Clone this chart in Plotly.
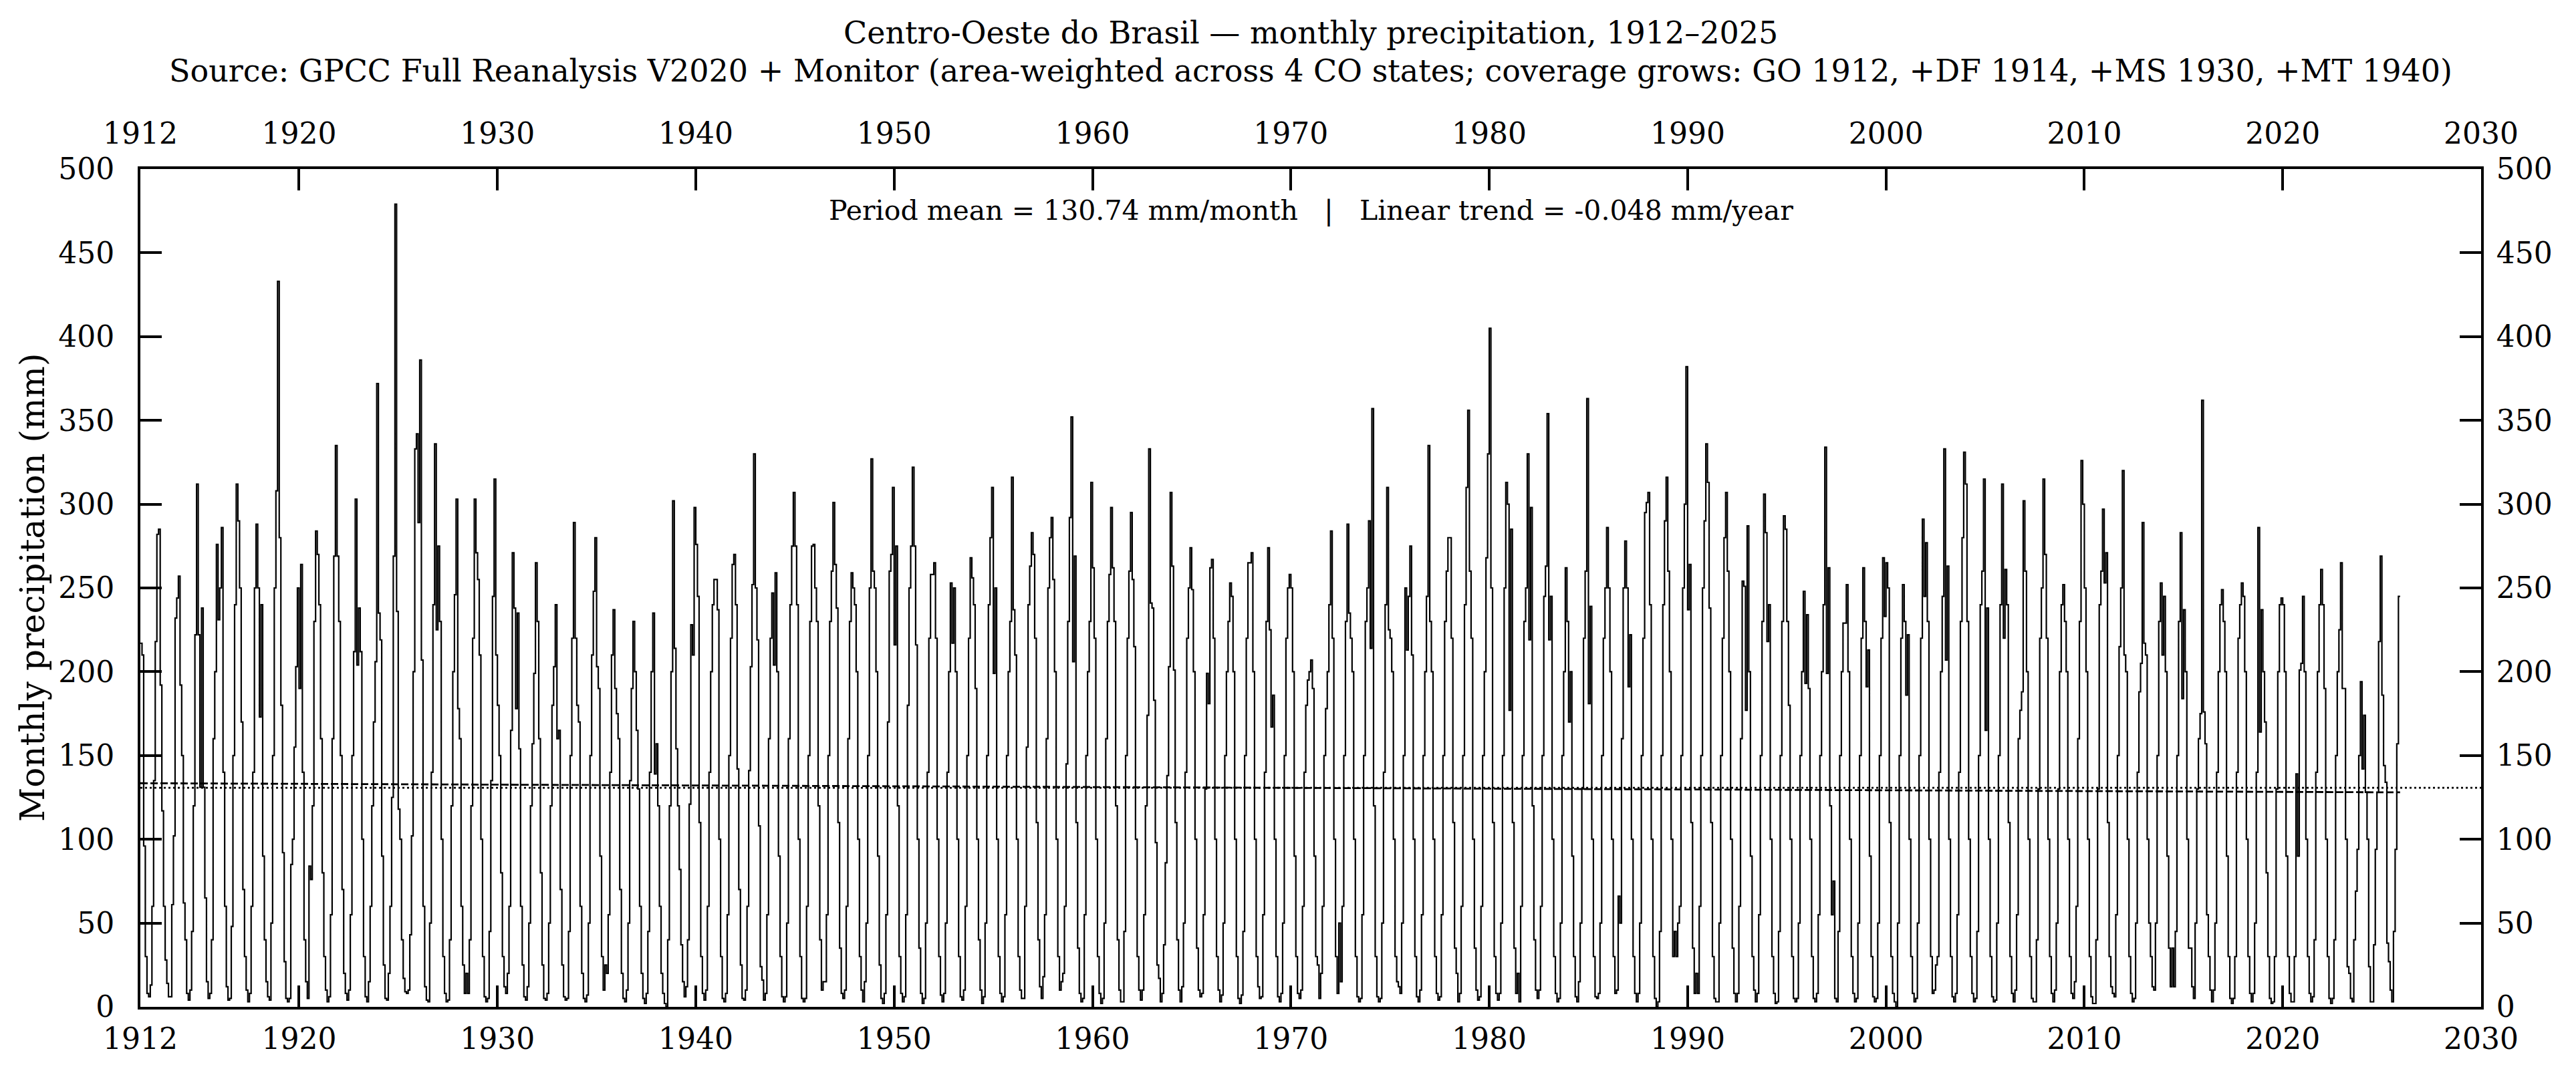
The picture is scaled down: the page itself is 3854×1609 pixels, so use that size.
import numpy as np
import plotly.graph_objects as go

# ---------------- data (mm/month, Jan..Dec for each year) ----------------
START_YEAR = 1912

P_1912_1919 = [
    217, 217, 210, 96, 30, 8, 6, 13, 60, 135, 218, 282,
    285, 192, 117, 60, 28, 14, 6, 6, 61, 102, 232, 244,
    257, 192, 150, 62, 40, 8, 4, 10, 45, 120, 222, 312,
    222, 131, 238, 131, 65, 15, 5, 8, 40, 160, 200, 276,
    231, 250, 286, 140, 60, 12, 4, 5, 48, 150, 240, 312,
    290, 250, 170, 70, 30, 10, 3, 8, 60, 140, 250, 288,
    250, 173, 240, 90, 40, 15, 6, 4, 50, 150, 250, 308,
    433, 280, 180, 92, 27, 5, 3, 5, 85, 100, 155, 203,
]
P_1920s = [
    250, 190, 264, 140, 40, 15, 5, 84, 76, 120, 230, 284,
    270, 240, 160, 80, 30, 10, 3, 6, 55, 160, 269, 335,
    269, 230, 150, 70, 20, 8, 4, 10, 55, 150, 212, 303,
    204, 238, 212, 100, 30, 6, 3, 15, 60, 120, 170, 206,
    372, 235, 219, 90, 25, 5, 4, 20, 60, 125, 269, 479,
    236, 118, 100, 40, 17, 9, 8, 10, 43, 102, 200, 333,
    342, 289, 386, 207, 60, 12, 4, 3, 50, 140, 240, 336,
    225, 275, 230, 100, 30, 8, 3, 4, 40, 120, 200, 246,
    303, 178, 160, 60, 25, 8, 20, 8, 40, 120, 220, 303,
    271, 255, 210, 100, 30, 6, 3, 5, 45, 135, 245, 315,
]
P_1930s = [
    210, 180, 150, 80, 30, 12, 8, 20, 60, 165, 271, 238,
    178, 235, 154, 60, 25, 6, 4, 12, 50, 120, 157, 199,
    265, 230, 160, 80, 25, 5, 4, 8, 50, 120, 180, 203,
    240, 160, 165, 70, 25, 6, 4, 5, 45, 150, 220, 289,
    220, 180, 170, 60, 20, 5, 3, 7, 50, 150, 210, 248,
    280, 203, 190, 90, 30, 10, 25, 20, 55, 140, 210, 237,
    190, 175, 160, 70, 20, 5, 3, 10, 50, 135, 190, 230,
    200, 165, 130, 60, 20, 5, 2, 8, 45, 140, 200, 235,
    139, 157, 120, 60, 20, 8, 2, 0, 40, 120, 200, 302,
    214, 154, 120, 82, 37, 15, 6, 12, 40, 121, 228, 210,
]
P_1940s = [
    298, 276, 245, 110, 30, 8, 4, 10, 60, 140, 200, 240,
    255, 255, 237, 100, 30, 5, 3, 8, 55, 150, 220, 264,
    270, 240, 142, 70, 25, 5, 4, 10, 60, 141, 203, 252,
    330, 250, 219, 108, 24, 16, 4, 8, 55, 160, 220, 247,
    204, 259, 200, 90, 30, 6, 3, 6, 50, 160, 240, 275,
    307, 275, 240, 100, 30, 5, 3, 5, 60, 150, 230, 275,
    276, 250, 230, 120, 40, 10, 15, 15, 55, 150, 230, 260,
    301, 264, 238, 110, 35, 8, 5, 10, 60, 160, 230, 259,
    250, 240, 200, 100, 30, 10, 3, 15, 50, 150, 250, 327,
    260, 250, 200, 90, 25, 5, 2, 8, 55, 170, 260, 270,
]
P_1950s = [
    310, 216, 275, 120, 30, 8, 3, 6, 55, 180, 250, 275,
    322, 275, 216, 100, 35, 8, 2, 5, 50, 140, 220, 258,
    258, 265, 220, 100, 30, 7, 3, 8, 50, 140, 200, 253,
    217, 250, 200, 100, 30, 6, 4, 10, 60, 150, 220, 268,
    256, 240, 190, 100, 40, 10, 2, 6, 50, 150, 240, 280,
    310, 199, 250, 100, 30, 8, 3, 6, 55, 150, 200, 230,
    316, 237, 210, 100, 30, 10, 5, 5, 60, 155, 240, 263,
    283, 270, 220, 110, 40, 12, 5, 18, 55, 160, 250, 280,
    292, 255, 200, 100, 30, 10, 15, 20, 60, 145, 230, 292,
    352, 206, 269, 110, 35, 8, 3, 5, 55, 150, 200, 230,
]
P_1960s = [
    313, 262, 220, 100, 30, 8, 2, 5, 50, 160, 230, 258,
    298, 262, 230, 120, 40, 10, 3, 3, 45, 150, 220, 260,
    295, 255, 215, 100, 30, 10, 4, 10, 55, 120, 174, 333,
    241, 238, 183, 98, 25, 17, 3, 8, 37, 86, 138, 203,
    307, 263, 201, 110, 40, 10, 3, 12, 50, 140, 220, 250,
    274, 249, 200, 100, 35, 10, 6, 8, 55, 130, 199, 181,
    262, 267, 220, 100, 30, 10, 3, 7, 50, 150, 200, 230,
    253, 245, 200, 100, 30, 5, 2, 7, 45, 150, 220, 265,
    265, 271, 200, 100, 30, 12, 5, 6, 55, 140, 230, 274,
    225, 167, 186, 100, 30, 6, 3, 8, 50, 150, 220, 250,
]
P_1970s = [
    258, 250, 200, 90, 30, 8, 5, 10, 60, 140, 180, 195,
    200, 207, 190, 90, 30, 25, 5, 20, 60, 150, 178, 200,
    240, 284, 220, 100, 30, 8, 50, 15, 60, 150, 230, 288,
    235, 220, 200, 100, 30, 6, 3, 5, 55, 150, 230, 250,
    290, 214, 357, 120, 30, 6, 3, 5, 50, 140, 240, 310,
    225, 220, 200, 100, 30, 15, 12, 8, 50, 150, 250, 213,
    245, 275, 210, 100, 30, 6, 3, 10, 55, 150, 200, 245,
    335, 230, 200, 100, 30, 8, 4, 6, 55, 150, 230, 260,
    280, 280, 220, 110, 35, 20, 3, 8, 60, 150, 240, 310,
    356, 260, 220, 100, 35, 10, 4, 6, 60, 150, 200, 268,
]
P_1980s = [
    330, 405, 250, 110, 30, 8, 4, 8, 50, 150, 250, 313,
    300, 177, 285, 110, 35, 8, 20, 3, 60, 150, 230, 250,
    330, 219, 298, 120, 40, 10, 5, 10, 60, 150, 245, 263,
    354, 219, 245, 100, 30, 8, 3, 5, 50, 150, 200, 262,
    230, 170, 200, 90, 30, 6, 3, 15, 50, 130, 220, 260,
    363, 181, 239, 100, 30, 6, 5, 8, 50, 150, 220, 250,
    286, 250, 200, 100, 30, 8, 10, 66, 50, 160, 250, 278,
    250, 191, 222, 100, 30, 8, 3, 8, 50, 150, 220, 295,
    301, 307, 240, 100, 30, 5, 0, 3, 45, 150, 240, 290,
    316, 260, 200, 100, 30, 45, 30, 50, 60, 150, 250, 300,
]
P_1990s = [
    382, 237, 264, 110, 35, 8, 20, 8, 60, 150, 250, 290,
    336, 313, 238, 110, 30, 5, 3, 3, 50, 150, 220, 280,
    307, 260, 200, 100, 35, 8, 3, 8, 60, 160, 254, 251,
    177, 287, 200, 90, 30, 10, 3, 8, 55, 150, 230, 306,
    283, 218, 240, 100, 30, 8, 2, 3, 45, 150, 230, 293,
    285, 230, 180, 100, 30, 5, 3, 5, 50, 150, 200, 248,
    193, 234, 190, 100, 30, 5, 3, 8, 55, 150, 200, 240,
    334, 199, 262, 120, 55, 75, 5, 3, 45, 150, 200, 229,
    229, 252, 200, 100, 30, 8, 3, 5, 50, 150, 220, 262,
    230, 191, 213, 90, 30, 6, 3, 5, 50, 150, 220, 268,
]
P_2000s = [
    233, 265, 250, 110, 30, 8, 3, 0, 50, 150, 220, 252,
    230, 186, 222, 100, 30, 8, 3, 5, 50, 150, 220, 291,
    245, 277, 230, 100, 30, 8, 10, 25, 30, 140, 200, 245,
    333, 207, 263, 100, 30, 6, 3, 8, 55, 140, 230, 280,
    331, 312, 230, 100, 30, 8, 3, 5, 45, 150, 240, 260,
    315, 165, 238, 100, 30, 6, 3, 4, 50, 150, 240, 312,
    220, 261, 240, 110, 30, 8, 3, 10, 55, 160, 177, 188,
    302, 260, 200, 100, 30, 5, 3, 3, 40, 130, 220, 250,
    315, 270, 220, 100, 30, 8, 3, 10, 50, 130, 200, 240,
    252, 230, 200, 100, 30, 8, 5, 15, 60, 160, 230, 326,
]
P_2010s = [
    300, 250, 200, 100, 30, 6, 2, 2, 40, 130, 240, 260,
    297, 253, 271, 110, 30, 12, 8, 6, 55, 150, 215, 250,
    320, 210, 200, 100, 30, 8, 3, 5, 50, 140, 188, 205,
    289, 217, 210, 100, 50, 30, 12, 10, 50, 150, 230, 253,
    210, 245, 200, 90, 35, 12, 35, 12, 45, 150, 230, 283,
    184, 237, 200, 100, 35, 35, 12, 5, 50, 130, 160, 175,
    362, 176, 157, 55, 30, 10, 3, 10, 50, 140, 200, 240,
    249, 230, 200, 90, 30, 5, 2, 5, 30, 140, 220, 240,
    253, 245, 200, 100, 30, 8, 3, 8, 50, 140, 286, 164,
    237, 200, 170, 80, 30, 5, 2, 3, 30, 130, 200, 240,
]
P_2020s = [
    244, 240, 200, 90, 30, 8, 3, 3, 30, 139, 90, 201,
    205, 245, 200, 100, 30, 8, 3, 6, 40, 140, 200, 240,
    261, 240, 190, 100, 30, 5, 2, 5, 40, 150, 200, 225,
    265, 190, 190, 100, 24, 20, 5, 3, 40, 69, 94, 150,
    194, 142, 174, 128, 100, 24, 3, 3, 37, 94, 128, 218,
    269, 186, 144, 134, 38, 27, 10, 3, 45, 94, 157, 245,
]

PERIOD_MEAN = 130.74        # mm/month (as printed on the chart)
TREND_PER_YEAR = -0.048     # mm/year (as printed on the chart)

X_TICKS = [1912, 1920, 1930, 1940, 1950, 1960, 1970, 1980, 1990, 2000, 2010, 2020, 2030]
Y_TICKS = [0, 50, 100, 150, 200, 250, 300, 350, 400, 450, 500]

TITLE_1 = "Centro-Oeste do Brasil \u2014 monthly precipitation, 1912\u20132025"
TITLE_2 = ("Source: GPCC Full Reanalysis V2020 + Monitor (area-weighted across 4 CO states; "
           "coverage grows: GO 1912, +DF 1914, +MS 1930, +MT 1940)")
STATS_TEXT = (f"Period mean = {PERIOD_MEAN:.2f} mm/month   |   "
              f"Linear trend = {TREND_PER_YEAR:.3f} mm/year")
Y_LABEL = "Monthly precipitation (mm)"

# ---------------- build figure ----------------
values = np.array(P_1912_1919 + P_1920s + P_1930s + P_1940s + P_1950s + P_1960s
                  + P_1970s + P_1980s + P_1990s + P_2000s + P_2010s + P_2020s, dtype=float)
t = START_YEAR + np.arange(len(values)) / 12.0
t_mid = 0.5 * (t[0] + t[-1])
trend_x = np.array([t[0], t[-1]])
trend_y = PERIOD_MEAN + TREND_PER_YEAR * (trend_x - t_mid)

FONT = "DejaVu Serif"
W, H = 3854, 1609
ML, MR, MT, MB = 210, 142, 253, 102

fig = go.Figure()
fig.add_trace(go.Scatter(x=t, y=values, mode="lines",
                         line=dict(color="black", width=2.2, shape="vh"),
                         hoverinfo="skip", showlegend=False))
fig.add_trace(go.Scatter(x=trend_x, y=trend_y, mode="lines",
                         line=dict(color="black", width=2.8, dash="11px,4px"),
                         hoverinfo="skip", showlegend=False))
fig.add_trace(go.Scatter(x=[X_TICKS[0], X_TICKS[-1]], y=[PERIOD_MEAN, PERIOD_MEAN],
                         mode="lines", xaxis="x2", yaxis="y2",
                         line=dict(color="black", width=2.6, dash="3px,4px"),
                         hoverinfo="skip", showlegend=False))

tickfont = dict(family=FONT, size=44, color="black")
common_x = dict(range=[X_TICKS[0], X_TICKS[-1]], tickmode="array", tickvals=X_TICKS,
                ticktext=[str(v) for v in X_TICKS], ticks="inside", ticklen=32,
                tickwidth=3.5, tickcolor="black", showgrid=False, zeroline=False,
                showline=True, linecolor="black", linewidth=4, tickfont=tickfont)
common_y = dict(range=[Y_TICKS[0], Y_TICKS[-1]], tickmode="array", tickvals=Y_TICKS,
                ticktext=[str(v) for v in Y_TICKS], ticks="inside", ticklen=32,
                tickwidth=3.5, tickcolor="black", showgrid=False, zeroline=False,
                showline=True, linecolor="black", linewidth=4, tickfont=tickfont)

fig.update_layout(
    width=W, height=H,
    margin=dict(l=ML, r=MR, t=MT, b=MB, pad=0),
    paper_bgcolor="white", plot_bgcolor="white",
    showlegend=False,
    xaxis=dict(**common_x, side="bottom", mirror=True, ticklabelstandoff=6),
    xaxis2=dict(**common_x, side="top", overlaying="x", anchor="y", ticklabelstandoff=16),
    yaxis=dict(**common_y, side="left", mirror=True, ticklabelstandoff=26),
    yaxis2=dict(**common_y, side="right", overlaying="y", anchor="x", ticklabelstandoff=10),
)

ph = H - MT - MB
pw = W - ML - MR
fig.add_annotation(text=TITLE_1, xref="paper", yref="paper", x=0.5, y=1 + (MT - 49) / ph,
                   xanchor="center", yanchor="middle", showarrow=False,
                   font=dict(family=FONT, size=46, color="black"))
fig.add_annotation(text=TITLE_2, xref="paper", yref="paper", x=0.5, y=1 + (MT - 106) / ph,
                   xanchor="center", yanchor="middle", showarrow=False,
                   font=dict(family=FONT, size=46, color="black"))
fig.add_annotation(text=STATS_TEXT, xref="paper", yref="paper", x=0.5, y=1 - (315 - MT) / ph,
                   xanchor="center", yanchor="middle", showarrow=False,
                   font=dict(family=FONT, size=41, color="black"))
fig.add_annotation(text=Y_LABEL, xref="paper", yref="paper", x=(49 - ML) / pw, y=0.5,
                   xanchor="center", yanchor="middle", textangle=-90, showarrow=False,
                   font=dict(family=FONT, size=50, color="black"))

fig.write_html("out.html", config={"displayModeBar": False})
